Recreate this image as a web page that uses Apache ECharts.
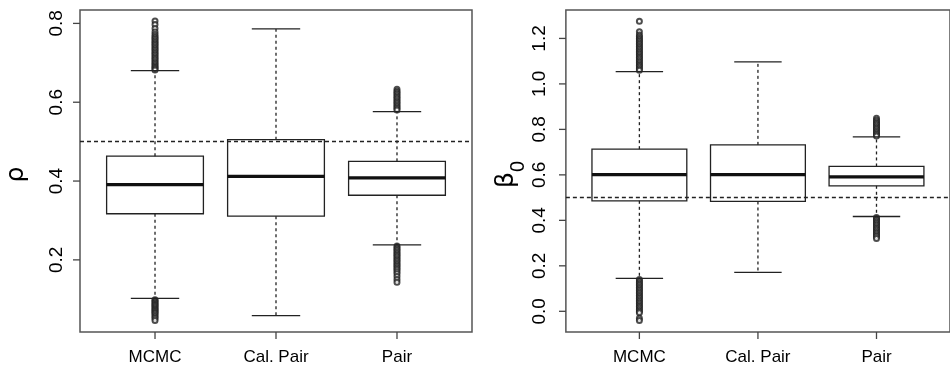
<!DOCTYPE html>
<html>
<head>
<meta charset="utf-8">
<script src="https://cdn.jsdelivr.net/npm/echarts@6/dist/echarts.min.js"></script>
<style>
  html, body { margin: 0; padding: 0; background: #fff; }
  #main { width: 950px; height: 368px; }
</style>
</head>
<body>
<div id="main"></div>
<script>
// categories along x
var categories = ['MCMC', 'Cal. Pair', 'Pair'];

// box stats per method: [lower whisker, Q1, median, Q3, upper whisker]
var rhoStats = [
    [0.1025, 0.317, 0.391, 0.463, 0.680],
    [0.0585, 0.311, 0.412, 0.505, 0.786],
    [0.238, 0.364, 0.408, 0.450, 0.576]
];
var betaStats = [
    [0.145, 0.486, 0.601, 0.713, 1.054],
    [0.171, 0.483, 0.601, 0.732, 1.097],
    [0.417, 0.552, 0.591, 0.637, 0.767]
];

// outliers per method
var rhoOutliers = [
    [0.806, 0.797, 0.787, 0.778, 0.772, 0.767, 0.763, 0.759, 0.755, 0.751, 0.747, 0.743, 0.739, 0.735,
     0.731, 0.727, 0.723, 0.719, 0.715, 0.711, 0.707, 0.703, 0.699, 0.695, 0.691, 0.688, 0.685, 0.682,
     0.099, 0.096, 0.093, 0.090, 0.087, 0.084, 0.081, 0.078, 0.075, 0.072, 0.069, 0.066, 0.063, 0.059,
     0.055, 0.051, 0.046],
    [],
    [0.633, 0.628, 0.624, 0.620, 0.616, 0.612, 0.608, 0.604, 0.600, 0.596, 0.592, 0.588, 0.584, 0.580,
     0.235, 0.231, 0.227, 0.223, 0.219, 0.215, 0.211, 0.207, 0.203, 0.199, 0.195, 0.191, 0.187, 0.183,
     0.179, 0.175, 0.170, 0.165, 0.158, 0.150, 0.143]
];
var betaOutliers = [
    [1.276, 1.229, 1.215, 1.207, 1.200, 1.193, 1.186, 1.179, 1.172, 1.165, 1.158, 1.151, 1.144, 1.137,
     1.130, 1.123, 1.116, 1.109, 1.102, 1.095, 1.088, 1.081, 1.074, 1.067, 1.060,
     0.140, 0.133, 0.126, 0.119, 0.112, 0.105, 0.098, 0.091, 0.084, 0.077, 0.070, 0.063, 0.056, 0.049,
     0.042, 0.035, 0.028, 0.021, 0.014, 0.007, 0.000, -0.006, -0.030, -0.040],
    [],
    [0.849, 0.840, 0.833, 0.826, 0.819, 0.812, 0.805, 0.798, 0.791, 0.784, 0.777, 0.771,
     0.413, 0.406, 0.399, 0.392, 0.385, 0.378, 0.371, 0.364, 0.357, 0.350, 0.343, 0.336, 0.329, 0.320]
];

// tick labels
var rhoTicks = [0.2, 0.4, 0.6, 0.8];
var betaTicks = [0.0, 0.2, 0.4, 0.6, 0.8, 1.0, 1.2];
var catTicks = [1, 2, 3];

// plot ranges inside the frame (R's 4% padding)
var xRange = [0.38, 3.62];
var rhoRange = [0.017, 0.834];
var betaRange = [-0.091, 1.325];

// true values (dashed reference lines)
var rhoTrue = 0.5;
var betaTrue = 0.5;

var ink = '#222';
var frameColor = '#555';
var font = '"Liberation Sans", Arial, sans-serif';
var tickLen = 7;

// frame boxes; each grid is widened by tickLen on the left and bottom so the ticks sit inside it
var frames = [
    { left: 80, top: 10, width: 392, height: 322 },
    { left: 566, top: 10, width: 391, height: 322 }
];
function extMin(range, px, len) {
    return range[0] - tickLen * (range[1] - range[0]) / len;
}

function boxData(stats) {
    return stats.map(function (s, i) { return [i + 1].concat(s); });
}
function outlierData(lists) {
    var out = [];
    lists.forEach(function (l, i) {
        l.forEach(function (v) { out.push([i + 1, v]); });
    });
    return out;
}

// R-style box: dashed whiskers, solid half-width staples, thick median
function renderBox(params, api) {
    var x = api.value(0);
    var half = api.size([0.4, 0])[0];
    var cx = api.coord([x, api.value(3)])[0];
    var yLo = api.coord([x, api.value(1)])[1];
    var yQ1 = api.coord([x, api.value(2)])[1];
    var yMed = api.coord([x, api.value(3)])[1];
    var yQ3 = api.coord([x, api.value(4)])[1];
    var yHi = api.coord([x, api.value(5)])[1];
    var solid = { stroke: ink, lineWidth: 1.3, fill: null };
    var dashed = { stroke: ink, lineWidth: 1.3, lineDash: [3, 3] };
    return {
        type: 'group',
        children: [
            { type: 'line', shape: { x1: cx, y1: yQ3, x2: cx, y2: yHi }, style: dashed },
            { type: 'line', shape: { x1: cx, y1: yQ1, x2: cx, y2: yLo }, style: dashed },
            { type: 'line', shape: { x1: cx - half / 2, y1: yHi, x2: cx + half / 2, y2: yHi }, style: solid },
            { type: 'line', shape: { x1: cx - half / 2, y1: yLo, x2: cx + half / 2, y2: yLo }, style: solid },
            { type: 'rect', shape: { x: cx - half, y: yQ3, width: half * 2, height: yQ1 - yQ3 }, style: solid },
            { type: 'line', shape: { x1: cx - half, y1: yMed, x2: cx + half, y2: yMed }, style: { stroke: '#111', lineWidth: 3.2 } }
        ]
    };
}

// frame + outward ticks for one panel, all placed through the axis scales
function frameSeries(idx, yRange, yTicks) {
    var xLo = extMin(xRange, 0, frames[idx].width);
    var yLo = extMin(yRange, 0, frames[idx].height);
    return {
        type: 'custom', xAxisIndex: idx, yAxisIndex: idx, silent: true, z: 4,
        data: [[xRange[0], yRange[0]]],
        encode: { x: 0, y: 1 },
        renderItem: function (params, api) {
            var tl = api.coord([xRange[0], yRange[1]]);
            var br = api.coord([xRange[1], yRange[0]]);
            var kids = [{ type: 'rect', shape: { x: tl[0], y: tl[1], width: br[0] - tl[0], height: br[1] - tl[1] },
                          style: { stroke: frameColor, lineWidth: 1.5, fill: null } }];
            yTicks.forEach(function (t) {
                var a = api.coord([xLo, t]), b = api.coord([xRange[0], t]);
                kids.push({ type: 'line', shape: { x1: a[0], y1: a[1], x2: b[0], y2: b[1] },
                            style: { stroke: '#444', lineWidth: 1.3 } });
            });
            catTicks.forEach(function (t) {
                var a = api.coord([t, yRange[0]]), b = api.coord([t, yLo]);
                kids.push({ type: 'line', shape: { x1: a[0], y1: a[1], x2: b[0], y2: b[1] },
                            style: { stroke: '#444', lineWidth: 1.3 } });
            });
            return { type: 'group', children: kids };
        }
    };
}

function makeX(idx) {
    return {
        type: 'value', gridIndex: idx, min: extMin(xRange, 0, frames[idx].width), max: xRange[1], position: 'bottom',
        splitLine: { show: false },
        axisLine: { show: false, onZero: false },
        axisTick: { show: false },
        axisLabel: {
            customValues: catTicks, margin: 10, fontSize: 17, color: '#000', fontFamily: font,
            formatter: function (v) { return categories[Math.round(v) - 1]; }
        }
    };
}
function makeY(idx, range, ticks, name, labelMargin, nameGap) {
    return {
        type: 'value', gridIndex: idx, min: extMin(range, 0, frames[idx].height), max: range[1], position: 'left',
        name: name, nameLocation: 'middle', nameRotate: 90, nameGap: nameGap,
        nameTextStyle: {
            fontSize: 25, color: '#000', fontFamily: '"DejaVu Sans", sans-serif',
            rich: {
                g: { fontSize: 25, lineHeight: 34, verticalAlign: 'top', color: '#000', fontFamily: '"DejaVu Sans", sans-serif' },
                s: { fontSize: 20, lineHeight: 20, verticalAlign: 'bottom', color: '#000', fontFamily: '"Liberation Sans", sans-serif' }
            }
        },
        splitLine: { show: false },
        axisLine: { show: false, onZero: false },
        axisTick: { show: false },
        axisLabel: {
            customValues: ticks, rotate: 90, margin: labelMargin, fontSize: 19, color: '#000',
            fontFamily: font,
            formatter: function (v) { return v.toFixed(1); }
        }
    };
}
function refLine(y) {
    return {
        silent: true, symbol: ['none', 'none'], label: { show: false },
        lineStyle: { color: ink, type: [4, 3], width: 1.3 },
        data: [[{ coord: [xRange[0], y] }, { coord: [xRange[1], y] }]]
    };
}

var chart = echarts.init(document.getElementById('main'));
chart.setOption({
    animation: false,
    backgroundColor: '#fff',
    grid: frames.map(function (f) {
        return { left: f.left - tickLen, top: f.top, width: f.width + tickLen, height: f.height + tickLen, show: false };
    }),
    xAxis: [makeX(0), makeX(1)],
    yAxis: [
        makeY(0, rhoRange, rhoTicks, '{g|ρ}', 7, 35),
        makeY(1, betaRange, betaTicks, '{g|β}{s|0}', 10, 31)
    ],
    series: [
        frameSeries(0, rhoRange, rhoTicks),
        { type: 'custom', xAxisIndex: 0, yAxisIndex: 0, renderItem: renderBox, data: boxData(rhoStats),
          encode: { x: 0, y: [1, 2, 3, 4, 5] }, z: 3 },
        { type: 'scatter', xAxisIndex: 0, yAxisIndex: 0, data: outlierData(rhoOutliers),
          symbol: 'emptyCircle', symbolSize: 5, itemStyle: { color: ink, borderWidth: 1 },
          markLine: refLine(rhoTrue), z: 2 },
        frameSeries(1, betaRange, betaTicks),
        { type: 'custom', xAxisIndex: 1, yAxisIndex: 1, renderItem: renderBox, data: boxData(betaStats),
          encode: { x: 0, y: [1, 2, 3, 4, 5] }, z: 3 },
        { type: 'scatter', xAxisIndex: 1, yAxisIndex: 1, data: outlierData(betaOutliers),
          symbol: 'emptyCircle', symbolSize: 5, itemStyle: { color: ink, borderWidth: 1 },
          markLine: refLine(betaTrue), z: 2 }
    ]
});
</script>
</body>
</html>
